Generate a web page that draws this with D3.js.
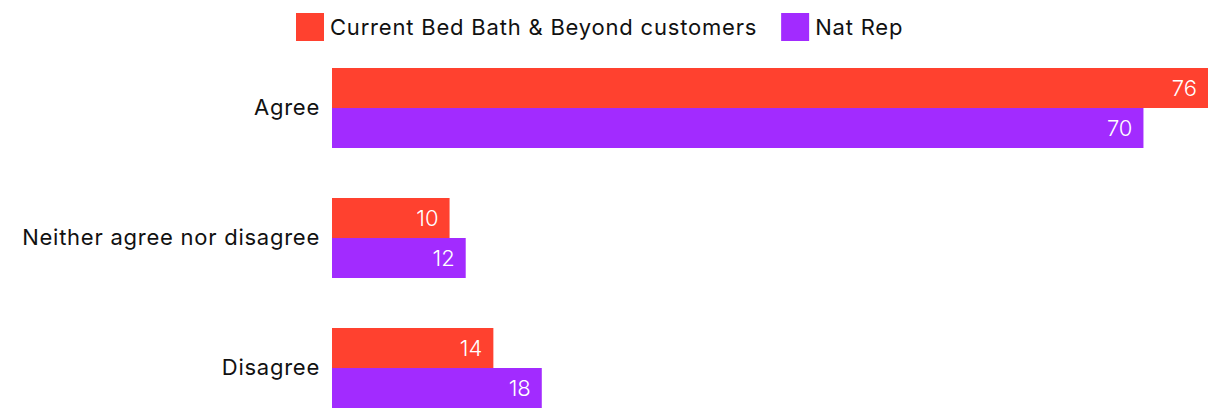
<!DOCTYPE html>
<html>
<head>
<meta charset="utf-8">
<script src="https://cdn.jsdelivr.net/npm/d3@7"></script>
<style>
  body { margin: 0; background: #fff; }
  text { font-family: Inter, "Noto Sans", sans-serif; }
</style>
</head>
<body>
<div id="chart"></div>
<script>
// Data
const categories = ["Agree", "Neither agree nor disagree", "Disagree"];
const seriesNames = ["Current Bed Bath & Beyond customers", "Nat Rep"];
const customers = [76, 10.2, 14];
const natRep = [70.4, 11.6, 18.2];
const seriesColors = ["#ff412f", "#a22bff"];

// Size
const WIDTH = 1220;
const HEIGHT = 420;
const margin = { left: 332, right: 12 };

const svg = d3
  .select("#chart")
  .append("svg")
  .attr("width", WIDTH)
  .attr("height", HEIGHT);

// Scales
const xScale = d3
  .scaleLinear()
  .domain([0, 76])
  .range([margin.left, WIDTH - margin.right]);

const yScale = d3
  .scaleBand()
  .domain(categories)
  .range([18, 458])
  .padding(50 / 130);

const subScale = d3
  .scaleBand()
  .domain(seriesNames)
  .range([0, yScale.bandwidth()]);

const rows = categories.map((c, i) => ({
  cat: c,
  vals: [
    { s: seriesNames[0], v: customers[i] },
    { s: seriesNames[1], v: natRep[i] },
  ],
}));

const colorOf = d3.scaleOrdinal().domain(seriesNames).range(seriesColors);
const fmt = d3.format(".0f");

// Y axis labels
const yAxis = d3.axisLeft(yScale).tickSize(0).tickPadding(12);
svg
  .append("g")
  .attr("transform", "translate(" + margin.left + ",0)")
  .call(yAxis)
  .call((g) => g.select(".domain").remove())
  .selectAll("text")
  .style("font-family", "Inter, sans-serif")
  .style("font-size", "22px")
  .style("letter-spacing", "0.75px")
  .style("fill", "#111");

// Bars
const groups = svg
  .selectAll(".grp")
  .data(rows)
  .enter()
  .append("g")
  .attr("class", "grp")
  .attr("transform", (d) => "translate(0," + yScale(d.cat) + ")");

groups
  .selectAll("rect")
  .data((d) => d.vals)
  .enter()
  .append("rect")
  .attr("x", xScale(0))
  .attr("y", (d) => subScale(d.s))
  .attr("width", (d) => xScale(d.v) - xScale(0))
  .attr("height", subScale.bandwidth())
  .style("fill", (d) => colorOf(d.s));

groups
  .selectAll(".val")
  .data((d) => d.vals)
  .enter()
  .append("text")
  .attr("class", "val")
  .attr("x", (d) => xScale(d.v) - 11)
  .attr("y", (d) => subScale(d.s) + subScale.bandwidth() / 2)
  .attr("dy", "0.36em")
  .attr("text-anchor", "end")
  .style("font-size", "22px")
  .style("font-weight", 300)
  .style("fill", "#fff")
  .text((d) => fmt(d.v));

// Legend
const legend = svg.append("g").attr("transform", "translate(296,13)");
let lx = 0;
seriesNames.forEach((s, i) => {
  const item = legend.append("g").attr("transform", "translate(" + lx + ",0)");
  item
    .append("rect")
    .attr("width", 28)
    .attr("height", 28)
    .style("fill", seriesColors[i]);
  const t = item
    .append("text")
    .attr("x", 34)
    .attr("y", 14)
    .attr("dy", "0.36em")
    .style("font-size", "22px")
    .style("letter-spacing", "0.8px")
    .style("fill", "#111")
    .text(s);
  lx += 34 + t.node().getComputedTextLength() + 24;
});
</script>
</body>
</html>
